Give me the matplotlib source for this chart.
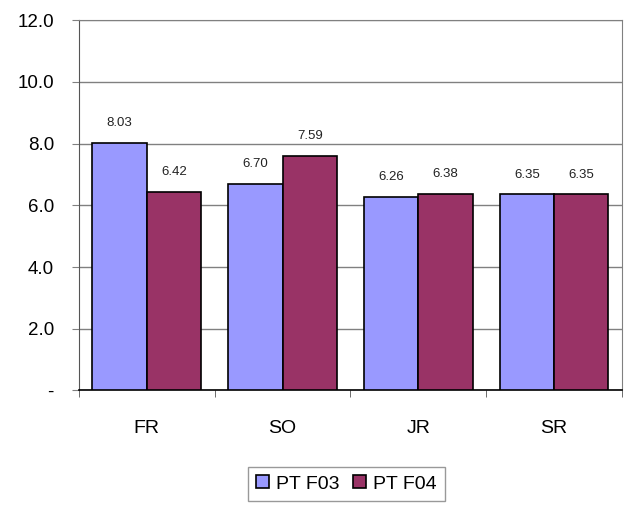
import matplotlib
matplotlib.use('Agg')
import matplotlib.pyplot as plt
import numpy as np

plt.rcParams['font.family'] = ['Liberation Sans', 'DejaVu Sans']

categories = ['FR', 'SO', 'JR', 'SR']
pt_f03 = [8.03, 6.70, 6.26, 6.35]
pt_f04 = [6.42, 7.59, 6.38, 6.35]
series_names = ['PT F03', 'PT F04']
y_ticks = [0, 2, 4, 6, 8, 10, 12]
y_tick_labels = ['-', '2.0', '4.0', '6.0', '8.0', '10.0', '12.0']

fig = plt.figure(figsize=(6.26, 5.08), dpi=100)
ax = fig.add_axes([0.126, 0.2313, 0.8676, 0.7293])

x = np.arange(len(categories))
bw = 0.4
b1 = ax.bar(x - bw / 2, pt_f03, bw, color='#9999FF', edgecolor='black', linewidth=1.2,
            label=series_names[0], zorder=3)
b2 = ax.bar(x + bw / 2, pt_f04, bw, color='#993366', edgecolor='black', linewidth=1.2,
            label=series_names[1], zorder=3)

# value labels above each bar
for bars in (b1, b2):
    for rect in bars:
        h = rect.get_height()
        ax.annotate(f'{h:.2f}', (rect.get_x() + rect.get_width() / 2, h),
                    xytext=(0, 10), textcoords='offset points', ha='center', va='bottom',
                    fontsize=9.5, color='#222222')

ax.set_xlim(-0.5, len(categories) - 0.5)
ax.set_ylim(0, 12)
ax.set_yticks(y_ticks)
ax.set_yticklabels(y_tick_labels, fontsize=13.5)
ax.set_xticks(x)
ax.set_xticklabels(categories, fontsize=14)
ax.tick_params(axis='x', length=0, pad=21)
ax.set_xticks(np.arange(len(categories) + 1) - 0.5, minor=True)
ax.tick_params(axis='x', which='minor', length=5, color='#555555', direction='out')
ax.tick_params(axis='y', length=5, color='#808080', pad=13)

ax.grid(axis='y', color='#808080', linewidth=1, zorder=0)
for s in ('top', 'right'):
    ax.spines[s].set_color('#808080')
ax.spines['left'].set_color('#555555')
ax.spines['bottom'].set_color('black')
ax.spines['bottom'].set_linewidth(1.2)

leg = fig.legend(loc='upper left', bbox_to_anchor=(0.396, 0.081), ncol=2, fontsize=14,
                 frameon=True, fancybox=False, handlelength=0.67, handleheight=0.67,
                 handletextpad=0.36, columnspacing=0.67, borderpad=0.43, borderaxespad=0)
leg.get_frame().set_edgecolor('#808080')
leg.get_frame().set_linewidth(1)

fig.savefig('out.png', dpi=100)
plt.close()
